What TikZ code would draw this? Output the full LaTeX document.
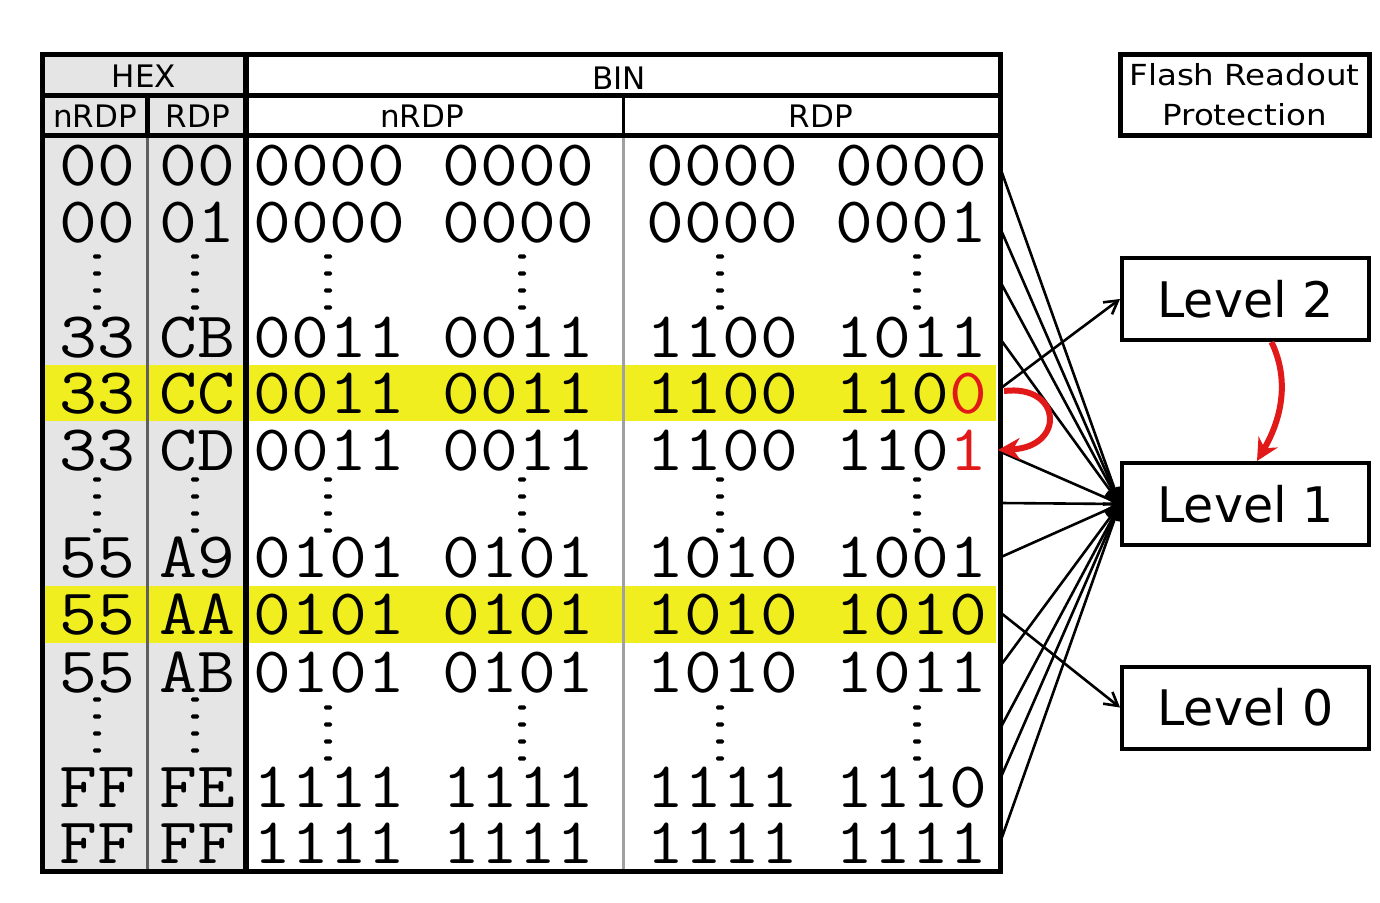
\documentclass[tikz,border=0pt]{standalone}
\usepackage{fontspec}
\usepackage{graphicx}
\setmainfont{DejaVu Sans}
\newfontfamily\monof[FakeStretch=1.13]{Latin Modern Mono}
\usetikzlibrary{arrows.meta}
\definecolor{hexgray}{RGB}{229,229,229}
\definecolor{hlyellow}{RGB}{240,238,30}
\definecolor{arrred}{RGB}{225,25,25}
\definecolor{sepdark}{RGB}{95,95,95}
\definecolor{seplight}{RGB}{160,160,160}
\newcommand{\tblrow}[6]{%
  \node[mono] (#1a) at (97,#2) {#3};
  \node[mono] (#1b) at (197,#2) {#4};
  \node[mono] (#1c) at (424,#2) {#5};
  \node[mono] (#1d) at (817,#2) {#6};}
\newcommand{\vdotsat}[2]{%
  \foreach \dd in {-25.5,-8.5,8.5,25.5}{\fill[rounded corners=1.5pt] ({#1-4},{#2+\dd-2.2}) rectangle ({#1+4},{#2+\dd+2.2});}}
\begin{document}
\begin{tikzpicture}[x=1pt,y=-1pt,
  mono/.style={font=\monof\fontsize{65}{65}\selectfont, inner sep=0pt, anchor=base, text height=40pt, text depth=0pt},
  hdr/.style={font=\fontsize{31}{31}\selectfont, inner sep=0pt, anchor=base},
  border/.style={line width=5pt},
  lvl/.style={draw, line width=4pt, minimum width=247pt, minimum height=82pt, inner sep=0pt, font=\fontsize{49}{49}\selectfont},
  conn/.style={line width=2.6pt, -{Straight Barb[length=13pt,width=15pt,line width=2.6pt]}},
  redarrow/.style={draw=arrred, line width=6pt, -{Stealth[length=22pt,width=22pt]}}
]
\useasboundingbox (0,0) rectangle (1380,902);
% backgrounds
\fill[hexgray] (42,54) rectangle (246,871);
\fill[hlyellow] (44,365) rectangle (996,421);
\fill[hlyellow] (44,586) rectangle (996,643);
% data separators
\draw[sepdark, line width=3pt] (147,135) -- (147,871);
\draw[seplight, line width=3pt] (623,135) -- (623,871);
% headers
\node[hdr] (hexh) at (144,87) {HEX};
\node[hdr] (binh) at (619,89) {BIN};
\node[hdr] (hn) at (95,127) {nRDP};
\node[hdr] (hr) at (198,127) {RDP};
\node[hdr] (bn) at (422,127) {nRDP};
\node[hdr] (br) at (821,127) {RDP};
% rows
\tblrow{ra}{185}{00}{00}{0000 0000}{0000 0000}
\tblrow{rb}{242}{00}{01}{0000 0000}{0000 0001}
\tblrow{rc}{357}{33}{CB}{0011 0011}{1100 1011}
\tblrow{rd}{413}{33}{CC}{0011 0011}{1100 110\textcolor{arrred}{0}}
\tblrow{re}{470}{33}{CD}{0011 0011}{1100 110\textcolor{arrred}{1}}
\tblrow{rf}{577}{55}{A9}{0101 0101}{1010 1001}
\tblrow{rg}{634}{55}{AA}{0101 0101}{1010 1010}
\tblrow{rh}{692}{55}{AB}{0101 0101}{1010 1011}
\tblrow{ri}{807}{FF}{FE}{1111 1111}{1111 1110}
\tblrow{rj}{863}{FF}{FF}{1111 1111}{1111 1111}
% vertical dots
\foreach \xx in {97,195,328,522,720,917}{\vdotsat{\xx}{282}\vdotsat{\xx}{505}}
\foreach \xx in {97,195}{\vdotsat{\xx}{725}}
\foreach \xx in {328,522,720,917}{\vdotsat{\xx}{733}}
% borders
\draw[border] (42,95) -- (1000,95);
\draw[border] (42,135) -- (1000,135);
\draw[border] (147,95) -- (147,135);
\draw[line width=3pt] (623,95) -- (623,135);
\draw[line width=6pt] (246,54) -- (246,871);
\draw[border] (42,54) rectangle (1000,871);
% right side boxes
\node[draw, line width=5pt, minimum width=249pt, minimum height=81pt, inner sep=0pt, align=center, font=\fontsize{29}{40}\selectfont] (frp) at (1244.5,94.5) {\scalebox{1.12}[1]{Flash Readout}\\\scalebox{1.12}[1]{Protection}};
\node[lvl] (l2) at (1245.5,299) {Level 2};
\node[lvl] (l1) at (1245.5,504) {Level 1};
\node[lvl] (l0) at (1245.5,707.5) {Level 0};
% row end points
\coordinate (e1) at (1001,170);
\coordinate (e2) at (1001,230);
\coordinate (e3) at (1001,283);
\coordinate (e4) at (1001,340);
\coordinate (e5) at (1001,388);
\coordinate (e6) at (1001,452);
\coordinate (e7) at (1001,503);
\coordinate (e8) at (1001,557);
\coordinate (e9) at (1001,613);
\coordinate (e10) at (1001,665);
\coordinate (e11) at (1001,727);
\coordinate (e12) at (1001,777);
\coordinate (e13) at (1001,840);
\foreach \k in {1,2,3,4,6,7,8,10,11,12,13}{\draw[conn] (e\k) -- (l1.west);}
\draw[conn] (e5) -- (l2.west);
\draw[conn] (e9) -- (l0.west);
% red arrows
\coordinate (rs) at (1004,391);
\coordinate (rt) at (998,450);
\draw[redarrow] (rs) .. controls (1062,384) and (1066,447) .. (rt);
\draw[redarrow] (l2.south) ++(26,0) coordinate (l2r) .. controls (1292,385) and (1278,425) .. (1257,461);
\end{tikzpicture}
\end{document}
